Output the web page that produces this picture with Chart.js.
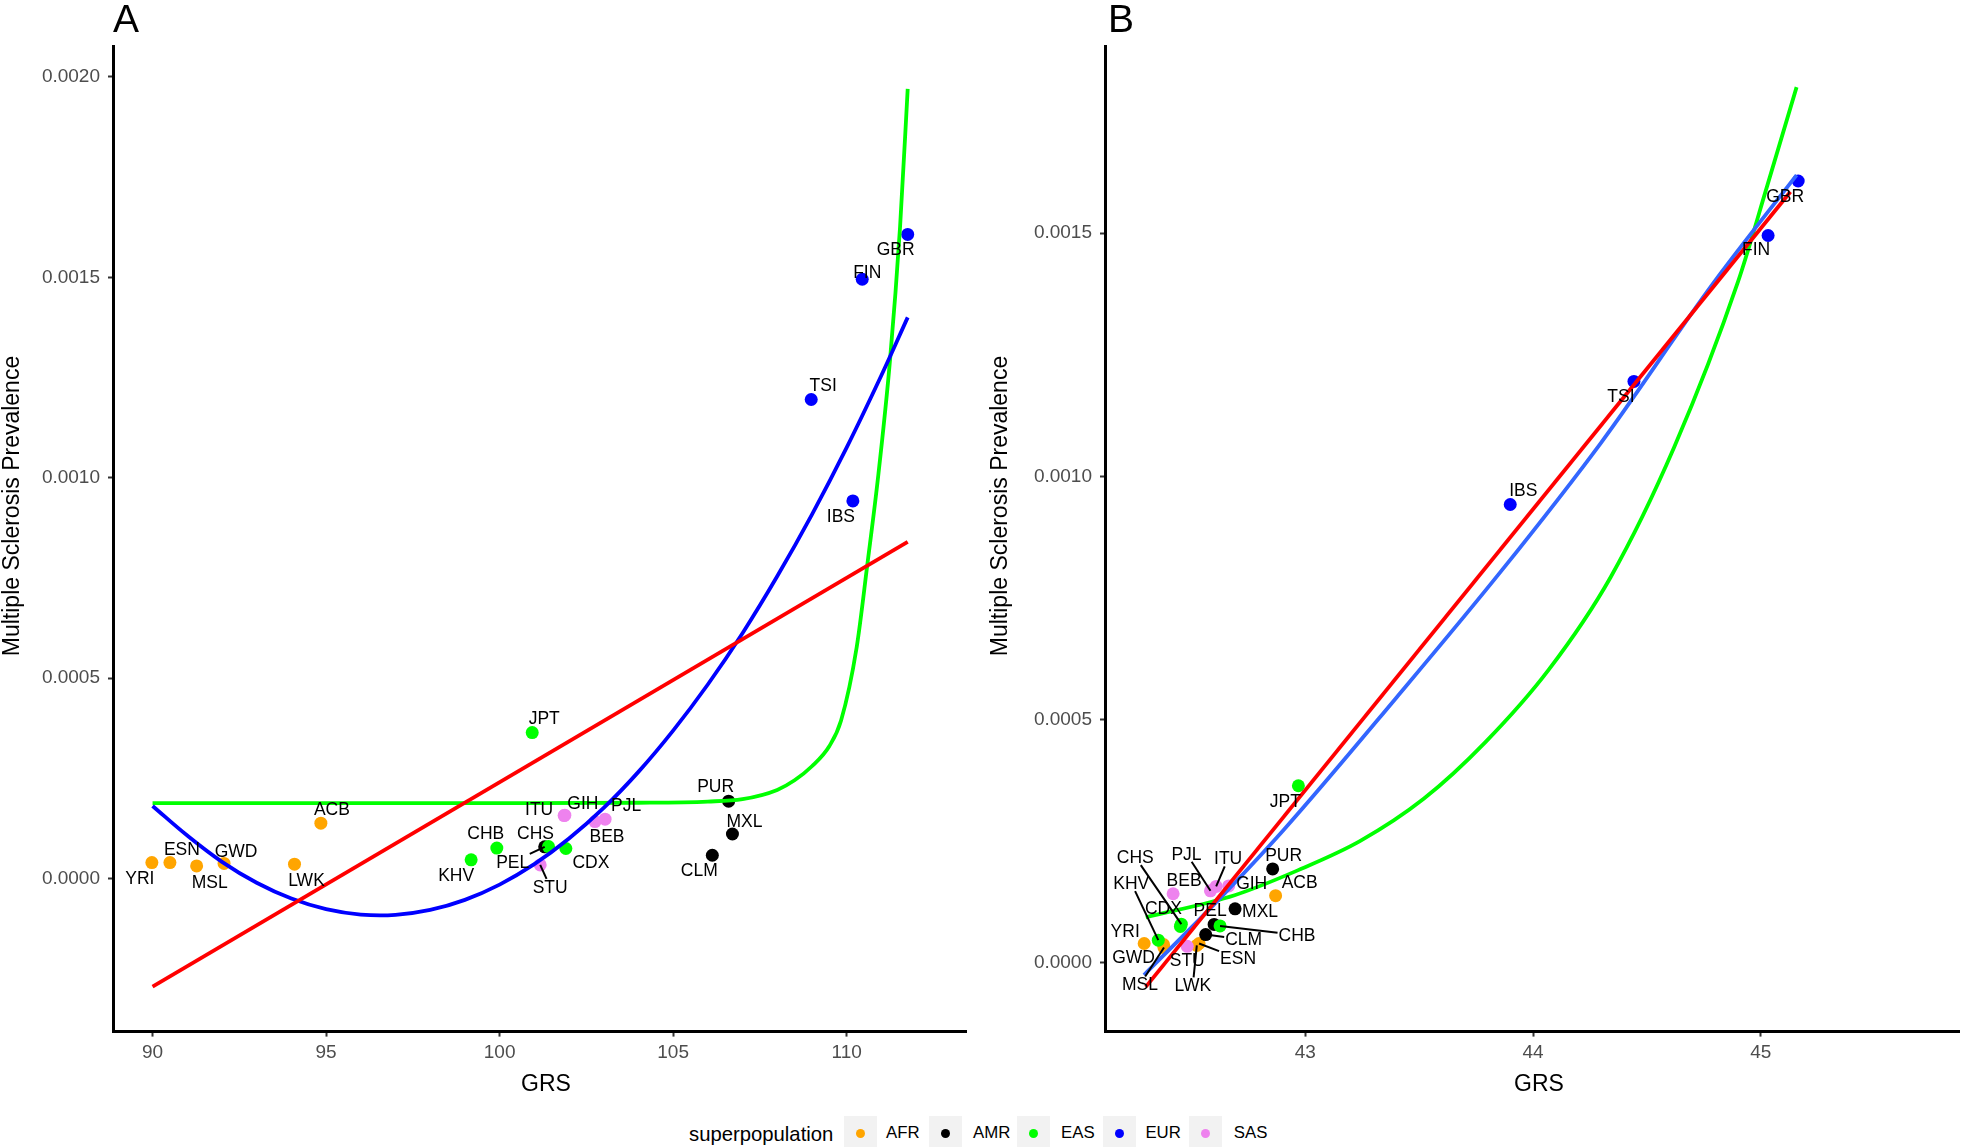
<!DOCTYPE html>
<html><head><meta charset="utf-8">
<script src="https://cdn.jsdelivr.net/npm/chart.js@4.4.1/dist/chart.umd.min.js"></script>
<style>
html,body{margin:0;padding:0;background:#fff;}
body{width:1968px;height:1148px;position:relative;overflow:hidden;font-family:"Liberation Sans",Arial,sans-serif;}
#wrapA{position:absolute;left:0;top:0;width:984px;height:1100px;}
#wrapB{position:absolute;left:984px;top:0;width:984px;height:1100px;}
.lg{position:absolute;white-space:nowrap;color:#000;}
.key{position:absolute;background:#F2F2F2;}
.dot{position:absolute;border-radius:50%;}
</style></head>
<body>
<div id="wrapA"><canvas id="cA" width="984" height="1100"></canvas></div>
<div id="wrapB"><canvas id="cB" width="984" height="1100"></canvas></div>
<div id="legend"></div>
<script>
// ---------------- DATA ----------------
const populations = ["YRI","ESN","MSL","GWD","LWK","ACB","PUR","MXL","CLM","PEL","JPT","CHB","CHS","CDX","KHV","GBR","FIN","TSI","IBS","ITU","GIH","PJL","BEB","STU"];
const superpopulation = ["AFR","AFR","AFR","AFR","AFR","AFR","AMR","AMR","AMR","AMR","EAS","EAS","EAS","EAS","EAS","EUR","EUR","EUR","EUR","SAS","SAS","SAS","SAS","SAS"];
const prevalence = [0.0000397,0.0000397,0.0000314,0.0000375,0.0000357,0.000138,0.000193,0.000111,0.000058,0.000079,0.000364,0.0000758,0.0000795,0.0000748,0.0000466,0.001607,0.001495,0.001195,0.000942,0.000157,0.000158,0.000148,0.000142,0.0000339];
const grsA = [89.98,90.50,91.27,92.06,94.09,94.85,106.60,106.71,106.13,101.30,100.94,99.92,101.41,101.91,99.18,111.76,110.45,108.98,110.18,101.86,101.88,103.04,102.75,101.17];
const grsB = [42.293,42.534,42.380,42.378,42.524,42.870,42.857,42.692,42.563,42.600,42.970,42.626,42.456,42.452,42.355,45.164,45.032,44.443,43.900,42.609,42.664,42.584,42.420,42.482];

const superpopNames = ["AFR","AMR","EAS","EUR","SAS"];
const superpopColors = ["#FFA500","#000000","#00FF00","#0000FF","#EE82EE"];

// Panel A fitted curves
const redA_x = [90, 111.76];
const redA_y = [-0.00027, 0.00084];
const blueA_x = [90,91,92,93,94,95,96,97,98,99,100,101,102,103,104,105,106,107,108,109,110,111,111.76];
const blueA_y = [0.000181,0.000107,0.0000415,-0.0000107,-0.0000501,-0.0000765,-0.000090,-0.0000907,-0.0000785,-0.0000533,-0.0000152,0.0000357,0.0000996,0.000176,0.000266,0.000369,0.000484,0.000612,0.000754,0.000908,0.001075,0.001255,0.0014];
const greenA_x = [90,95,100,104,106,107,108,108.5,109,109.5,109.84,110.29,110.6,110.91,111.25,111.54,111.76];
const greenA_y = [0.000188,0.000188,0.000188,0.000189,0.000192,0.000198,0.000221,0.000245,0.000280,0.000330,0.000394,0.000577,0.000785,0.001004,0.001293,0.001626,0.00197];

// Panel B fitted curves
const redB_x = [42.3, 45.13];
const redB_y = [-0.0000495, 0.001585];
const blueB_x = [42.292,42.6,42.905,43.4,43.86,44.3,44.79,45.157];
const blueB_y = [-0.000025,0.00012,0.000273,0.000545,0.000805,0.00107,0.001396,0.001619];
const greenB_x = [42.3,42.69,42.967,43.24,43.52,43.79,44.07,44.34,44.62,44.9,45.03,45.157];
const greenB_y = [0.0000935,0.000139,0.00019,0.00025,0.000337,0.000453,0.000603,0.000792,0.00106,0.0014,0.0016,0.0018];

// Tick labels
const xTicksA = [90,95,100,105,110];
const yTicksA = [0,0.0005,0.001,0.0015,0.002];
const xTicksB = [43,44,45];
const yTicksB = [0,0.0005,0.001,0.0015];

// ---------------- LAYOUT / STYLE ----------------
const FAM = '"Liberation Sans", Arial, sans-serif';
const labelOffsetsA = {YRI:[-12,16],ESN:[12,-13],MSL:[13,16],GWD:[12,-12],LWK:[12,16],ACB:[11,-14],
  PUR:[-13,-15],MXL:[12,-13],CLM:[-13,15],PEL:[-32,15],JPT:[12,-14],CHB:[-11,-15],CHS:[-13,-13],CDX:[25,14],KHV:[-15,15],
  GBR:[-12,15],FIN:[5,-7],TSI:[12,-14],IBS:[-12,15],ITU:[-25,-6],GIH:[18,-12],PJL:[21,-14],BEB:[12,15],STU:[10,22]};
const leadersA = ["PEL","STU"];
const labelOffsetsB = {YRI:[-19,-12],ESN:[39,15],MSL:[-24,37],GWD:[-30,13],LWK:[-4,40],ACB:[24,-14],
  PUR:[11,-14],MXL:[25,2],CLM:[38,5],PEL:[-4,-14],JPT:[-13,15],CHB:[77,9],CHS:[-46,-67],CDX:[-17,-18],KHV:[-27,-57],
  GBR:[-13,15],FIN:[-12,14],TSI:[-13,15],IBS:[13,-14],ITU:[12,-28],GIH:[23,-3],PJL:[-24,-37],BEB:[11,-14],STU:[0,14]};
const leadersB = ["ESN","MSL","LWK","CHB","CLM","CHS","KHV","ITU","PJL"];

function xy(xs, ys){ return xs.map((x,i)=>({x:x,y:ys[i]})); }

function pointDatasets(grs){
  return superpopNames.map((sp,k)=>({
    label: sp,
    order: 10 - k,
    data: populations.map((p,i)=>superpopulation[i]===sp ? {x:grs[i], y:prevalence[i]} : null).filter(d=>d),
    pointRadius: 6.5, pointHoverRadius: 6.5, pointBorderWidth: 0,
    backgroundColor: superpopColors[k], borderColor: superpopColors[k], showLine:false
  }));
}
function lineDs(data, color, mode){
  const d = {data:data, showLine:true, order:1, pointRadius:0, borderColor:color, borderWidth:3.8,
    backgroundColor:color, fill:false, tension:0, borderCapStyle:'butt'};
  if (mode === 'mono') d.cubicInterpolationMode = 'monotone';
  if (mode === 'smooth') d.tension = 0.4;
  return d;
}

function overlay(cfg){
  return {
    id:'ov'+cfg.panel,
    afterDatasetsDraw(chart){
      const ctx = chart.ctx, xs = chart.scales.x, ys = chart.scales.y;
      ctx.save();
      ctx.font = '17.5px ' + FAM;
      ctx.textAlign='center'; ctx.textBaseline='middle';
      populations.forEach((p,i)=>{
        const px = xs.getPixelForValue(cfg.grs[i]), py = ys.getPixelForValue(prevalence[i]);
        const off = cfg.offsets[p]; const lx = px+off[0], ly = py+off[1];
        if (cfg.leaders.indexOf(p) >= 0){
          const w = ctx.measureText(p).width/2 + 1, h = 8;
          const dx = px-lx, dy = py-ly;
          const t = Math.min(dx!==0 ? w/Math.abs(dx) : 1e9, dy!==0 ? h/Math.abs(dy) : 1e9);
          if (t < 1){
            ctx.beginPath(); ctx.strokeStyle='#000'; ctx.lineWidth=2;
            ctx.moveTo(lx+dx*t, ly+dy*t); ctx.lineTo(px, py); ctx.stroke();
          }
        }
        ctx.fillStyle='#000';
        ctx.fillText(p, lx, ly+1);
      });
      ctx.restore();
    },
    afterDraw(chart){
      const ctx = chart.ctx;
      ctx.save();
      ctx.fillStyle='#000';
      ctx.font = '39px ' + FAM; ctx.textAlign='left'; ctx.textBaseline='alphabetic';
      ctx.fillText(cfg.panel, cfg.panelX, 32);
      ctx.font = '23px ' + FAM; ctx.textAlign='center'; ctx.textBaseline='middle';
      ctx.fillText('GRS', cfg.xTitleX, 1085);
      ctx.translate(cfg.yTitleX, 506); ctx.rotate(-Math.PI/2);
      ctx.fillText('Multiple Sclerosis Prevalence', 0, 0);
      ctx.restore();
    }
  };
}

function makeChart(id, cfg){
  const axisCommon = {
    type:'linear',
    grid:{display:true, drawOnChartArea:false, drawTicks:true, tickLength:5, tickColor:'#333333', tickWidth:2},
    border:{display:true, color:'#000', width:3},
  };
  return new Chart(document.getElementById(id), {
    type:'scatter',
    data:{datasets: cfg.lines.concat(pointDatasets(cfg.grs))},
    options:{
      responsive:false, animation:false, devicePixelRatio:1,
      layout:{padding:{top:46, right:cfg.padRight, left:0, bottom:0}},
      plugins:{legend:{display:false}, tooltip:{enabled:false}},
      scales:{
        x: Object.assign({}, axisCommon, {
          min:cfg.xMin, max:cfg.xMax,
          afterBuildTicks: s=>{ s.ticks = cfg.xTicks.map(v=>({value:v})); },
          afterFit: s=>{ s.height = 68.4; },
          ticks:{color:'#4D4D4D', font:{size:19, family:FAM}, padding:5, maxRotation:0, autoSkip:false, callback:v=>String(v)}
        }),
        y: Object.assign({}, axisCommon, {
          min:cfg.yMin, max:cfg.yMax,
          afterBuildTicks: s=>{ s.ticks = cfg.yTicks.map(v=>({value:v})); },
          afterFit: s=>{ s.width = cfg.yAxisW; },
          ticks:{color:'#4D4D4D', font:{size:19, family:FAM}, padding:8, autoSkip:false, callback:v=>Number(v).toFixed(4)}
        })
      }
    },
    plugins:[overlay(cfg)]
  });
}

makeChart('cA', {
  panel:'A', panelX:113, xTitleX:546, yTitleX:13,
  grs:grsA, offsets:labelOffsetsA, leaders:leadersA,
  xMin:88.86, xMax:113.44, yMin:-0.000382, yMax:0.002077, xTicks:xTicksA, yTicks:yTicksA,
  yAxisW:113, padRight:18,
  lines:[ lineDs(xy(redA_x,redA_y),'#FF0000','line'), lineDs(xy(blueA_x,blueA_y),'#0000FF','smooth'), lineDs(xy(greenA_x,greenA_y),'#00FF00','mono') ]
});
makeChart('cB', {
  panel:'B', panelX:124, xTitleX:1539-984, yTitleX:1001-984,
  grs:grsB, offsets:labelOffsetsB, leaders:leadersB,
  xMin:42.121, xMax:45.87, yMin:-0.0001414, yMax:0.0018845, xTicks:xTicksB, yTicks:yTicksB,
  yAxisW:121, padRight:9,
  lines:[ lineDs(xy(redB_x,redB_y),'#FF0000','line'), lineDs(xy(blueB_x,blueB_y),'#3366FF','mono'), lineDs(xy(greenB_x,greenB_y),'#00FF00','mono') ]
});

// ---------------- LEGEND ----------------
(function(){
  const lg = document.getElementById('legend');
  const t = document.createElement('div');
  t.className='lg'; t.textContent='superpopulation';
  t.style.cssText='left:689px;top:1122px;font-size:20.3px;line-height:24px;';
  lg.appendChild(t);
  const dotX = [860.2,945.6,1033.3,1119.5,1205.3];
  const txtX = [886,973,1061,1145.4,1233.8];
  superpopNames.forEach((sp,k)=>{
    const key = document.createElement('div'); key.className='key';
    key.style.cssText='left:'+(dotX[k]-16.5)+'px;top:1115.5px;width:33px;height:31.5px;';
    lg.appendChild(key);
    const d = document.createElement('div'); d.className='dot';
    d.style.cssText='left:'+(dotX[k]-4.5)+'px;top:'+(1133-4.5)+'px;width:9px;height:9px;background:'+superpopColors[k]+';';
    lg.appendChild(d);
    const l = document.createElement('div'); l.className='lg'; l.textContent=sp;
    l.style.cssText='left:'+txtX[k]+'px;top:1123px;font-size:16.8px;line-height:20px;';
    lg.appendChild(l);
  });
})();
</script>
</body></html>
